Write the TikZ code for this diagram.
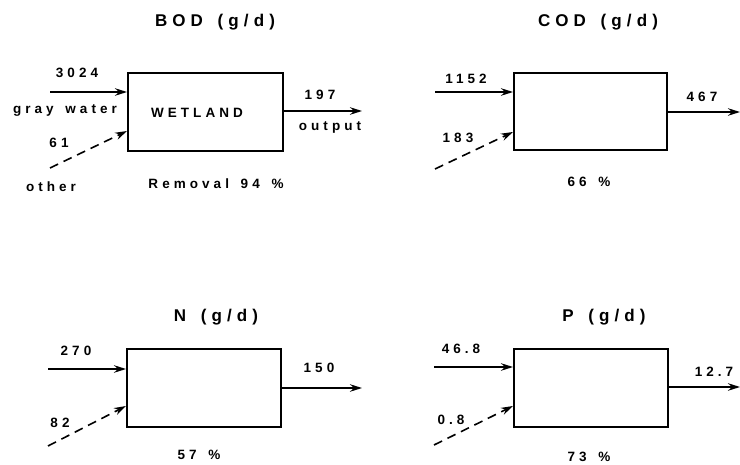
\documentclass[tikz,border=0pt]{standalone}
\usepackage{fontspec}
\setmainfont{Liberation Sans}
\newfontfamily\labfont[LetterSpace=30,WordSpace=1.5]{Liberation Sans Bold}
\usetikzlibrary{arrows.meta}
\begin{document}
\begin{tikzpicture}[x=1pt,y=-1pt,
  lbl/.style={inner sep=0pt,font=\labfont\fontsize{13.5}{15}\selectfont},
  ttl/.style={inner sep=0pt,font=\labfont\fontsize{17}{19}\selectfont},
  boxst/.style={draw,line width=2pt,inner sep=0pt,anchor=north west},
  flow/.style={line width=1.6pt,-{Stealth[length=12pt,width=7.5pt]}},
  dflow/.style={flow,dash pattern=on 9pt off 6pt}]
\useasboundingbox (0,0) rectangle (740,465);
% ---------- BOD ----------
\node[ttl] (t1) at (215,22) {BOD (g/d)};
\node[boxst,minimum width=155pt,minimum height=78pt] (b1) at (127,72) {};
\node[lbl] (w1) at (197,113) {WETLAND};
\coordinate (s1) at (50,92);
\coordinate (d1) at (50,168);
\coordinate (e1) at (127,131);
\coordinate (o1) at (362,111);
\draw[flow] (s1) -- (b1.west |- s1);
\draw[dflow] (d1) -- (e1);
\draw[flow] (b1.east |- o1) -- (o1);
\node[lbl] (a1) at (77,73) {3024};
\node[lbl] (g1) at (65,111) {gray water};
\node[lbl] (n1) at (59,143) {61};
\node[lbl] (h1) at (51,187) {other};
\node[lbl] (v1) at (320,95) {197};
\node[lbl] (u1) at (330,127) {output};
\node[lbl] (r1) at (216,184) {Removal 94 \%};
% ---------- COD ----------
\node[ttl] (t2) at (598,22) {COD (g/d)};
\node[boxst,minimum width=153pt,minimum height=77pt] (b2) at (513,72) {};
\coordinate (s2) at (435,92);
\coordinate (d2) at (435,169);
\coordinate (e2) at (513,132);
\coordinate (o2) at (740,112);
\draw[flow] (s2) -- (b2.west |- s2);
\draw[dflow] (d2) -- (e2);
\draw[flow] (b2.east |- o2) -- (o2);
\node[lbl] (a2) at (466,79) {1152};
\node[lbl] (n2) at (458,138) {183};
\node[lbl] (v2) at (702,97) {467};
\node[lbl] (r2) at (589,182) {66 \%};
% ---------- N ----------
\node[ttl] (t3) at (216,317) {N (g/d)};
\node[boxst,minimum width=154pt,minimum height=78pt] (b3) at (126,348) {};
\coordinate (s3) at (48,369);
\coordinate (d3) at (48,446);
\coordinate (e3) at (126,406);
\coordinate (o3) at (362,388);
\draw[flow] (s3) -- (b3.west |- s3);
\draw[dflow] (d3) -- (e3);
\draw[flow] (b3.east |- o3) -- (o3);
\node[lbl] (a3) at (76,351) {270};
\node[lbl] (n3) at (60,423) {82};
\node[lbl] (v3) at (319,368) {150};
\node[lbl] (r3) at (199,455) {57 \%};
% ---------- P ----------
\node[ttl] (t4) at (604,317) {P (g/d)};
\node[boxst,minimum width=154pt,minimum height=78pt] (b4) at (513,348) {};
\coordinate (s4) at (434,367);
\coordinate (d4) at (434,445);
\coordinate (e4) at (513,406);
\coordinate (o4) at (740,387);
\draw[flow] (s4) -- (b4.west |- s4);
\draw[dflow] (d4) -- (e4);
\draw[flow] (b4.east |- o4) -- (o4);
\node[lbl] (a4) at (461,349) {46.8};
\node[lbl] (n4) at (451,420) {0.8};
\node[lbl] (v4) at (714,372) {12.7};
\node[lbl] (r4) at (589,457) {73 \%};
\end{tikzpicture}
\end{document}
